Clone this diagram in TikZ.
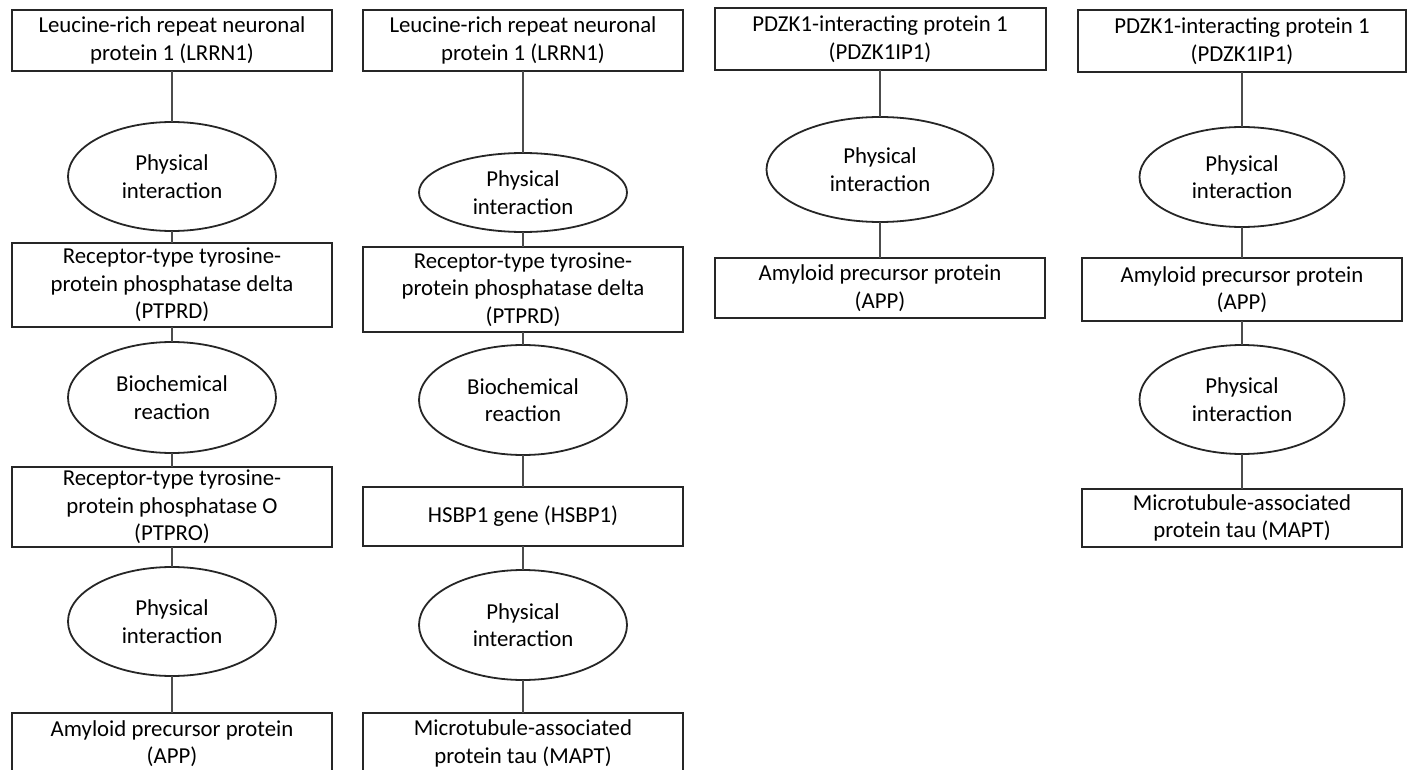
\documentclass[tikz,border=0pt]{standalone}
\usepackage{fontspec}
\setmainfont{Carlito}
\usetikzlibrary{shapes.geometric, positioning}
\tikzset{
    protbox/.style={
        rectangle, minimum width=320pt, minimum height=61pt, inner sep=0pt, outer sep=0pt,
        align=center, draw=black!85, line width=2pt,
        font=\fontsize{22.8}{27.5}\selectfont
    },
    interact/.style={
        ellipse, minimum width=208pt, minimum height=109pt, inner sep=0pt, outer sep=0pt,
        align=center, draw=black!85, line width=1.8pt,
        font=\fontsize{22.8}{27.5}\selectfont
    },
    link/.style={
        draw=black!70, line width=1.1pt
    }
}

\begin{document}
\begin{tikzpicture}[x=1pt, y=-1pt]
    \clip (0,0) rectangle (1411,770);

    % LRRN1 -> PTPRD -> PTPRO -> APP
    \node[protbox]                                        (lrrnA)    at (172,40.5) {Leucine-rich repeat neuronal\\protein 1 (LRRN1)};
    \node[interact, below=51pt of lrrnA]                  (physA1)   {Physical\\interaction};
    \node[protbox, minimum height=84pt, below=12pt of physA1] (ptprdA) {Receptor-type tyrosine-\\protein phosphatase delta\\(PTPRD)};
    \node[interact, minimum height=111pt, below=15pt of ptprdA] (biochemA) {Biochemical\\reaction};
    \node[protbox, minimum height=80pt, below=14pt of biochemA] (ptpro) {Receptor-type tyrosine-\\protein phosphatase O\\(PTPRO)};
    \node[interact, below=20pt of ptpro]                  (physA2)   {Physical\\interaction};
    \node[protbox, below=37pt of physA2]                  (appA)     {Amyloid precursor protein\\(APP)};

    \draw[link] (lrrnA)    -- (physA1);
    \draw[link] (physA1)   -- (ptprdA);
    \draw[link] (ptprdA)   -- (biochemA);
    \draw[link] (biochemA) -- (ptpro);
    \draw[link] (ptpro)    -- (physA2);
    \draw[link] (physA2)   -- (appA);

    % LRRN1 -> PTPRD -> HSBP1 -> MAPT
    \node[protbox]                                        (lrrnB)    at (523,40.5) {Leucine-rich repeat neuronal\\protein 1 (LRRN1)};
    \node[interact, minimum height=79pt, below=82pt of lrrnB] (physB1) {Physical\\interaction};
    \node[protbox, minimum height=85pt, below=15pt of physB1] (ptprdB) {Receptor-type tyrosine-\\protein phosphatase delta\\(PTPRD)};
    \node[interact, minimum height=110pt, below=13pt of ptprdB] (biochemB) {Biochemical\\reaction};
    \node[protbox, minimum height=59pt, below=32pt of biochemB] (hsbp) {HSBP1 gene (HSBP1)};
    \node[interact, minimum height=110pt, below=24pt of hsbp] (physB2) {Physical\\interaction};
    \node[protbox, below=33pt of physB2]                  (maptB)    {Microtubule-associated\\protein tau (MAPT)};

    \draw[link] (lrrnB)    -- (physB1);
    \draw[link] (physB1)   -- (ptprdB);
    \draw[link] (ptprdB)   -- (biochemB);
    \draw[link] (biochemB) -- (hsbp);
    \draw[link] (hsbp)     -- (physB2);
    \draw[link] (physB2)   -- (maptB);

    % PDZK1IP1 -> APP
    \node[protbox, minimum width=331pt, minimum height=62pt] (pdzkC) at (880,39) {PDZK1-interacting protein 1\\(PDZK1IP1)};
    \node[interact, minimum width=227pt, minimum height=105pt, below=47pt of pdzkC] (physC) {Physical\\interaction};
    \node[protbox, minimum width=330pt, minimum height=60pt, below=36pt of physC] (appC) {Amyloid precursor protein\\(APP)};

    \draw[link] (pdzkC) -- (physC);
    \draw[link] (physC) -- (appC);

    % PDZK1IP1 -> APP -> MAPT
    \node[protbox, minimum width=328pt, minimum height=62pt] (pdzkD) at (1242,41) {PDZK1-interacting protein 1\\(PDZK1IP1)};
    \node[interact, minimum width=205pt, minimum height=100pt, below=55pt of pdzkD] (physD1) {Physical\\interaction};
    \node[protbox, minimum height=63pt, below=31pt of physD1] (appD) {Amyloid precursor protein\\(APP)};
    \node[interact, minimum width=205pt, below=24pt of appD] (physD2) {Physical\\interaction};
    \node[protbox, minimum height=58pt, below=35pt of physD2] (maptD) {Microtubule-associated\\protein tau (MAPT)};

    \draw[link] (pdzkD)  -- (physD1);
    \draw[link] (physD1) -- (appD);
    \draw[link] (appD)   -- (physD2);
    \draw[link] (physD2) -- (maptD);

\end{tikzpicture}
\end{document}
